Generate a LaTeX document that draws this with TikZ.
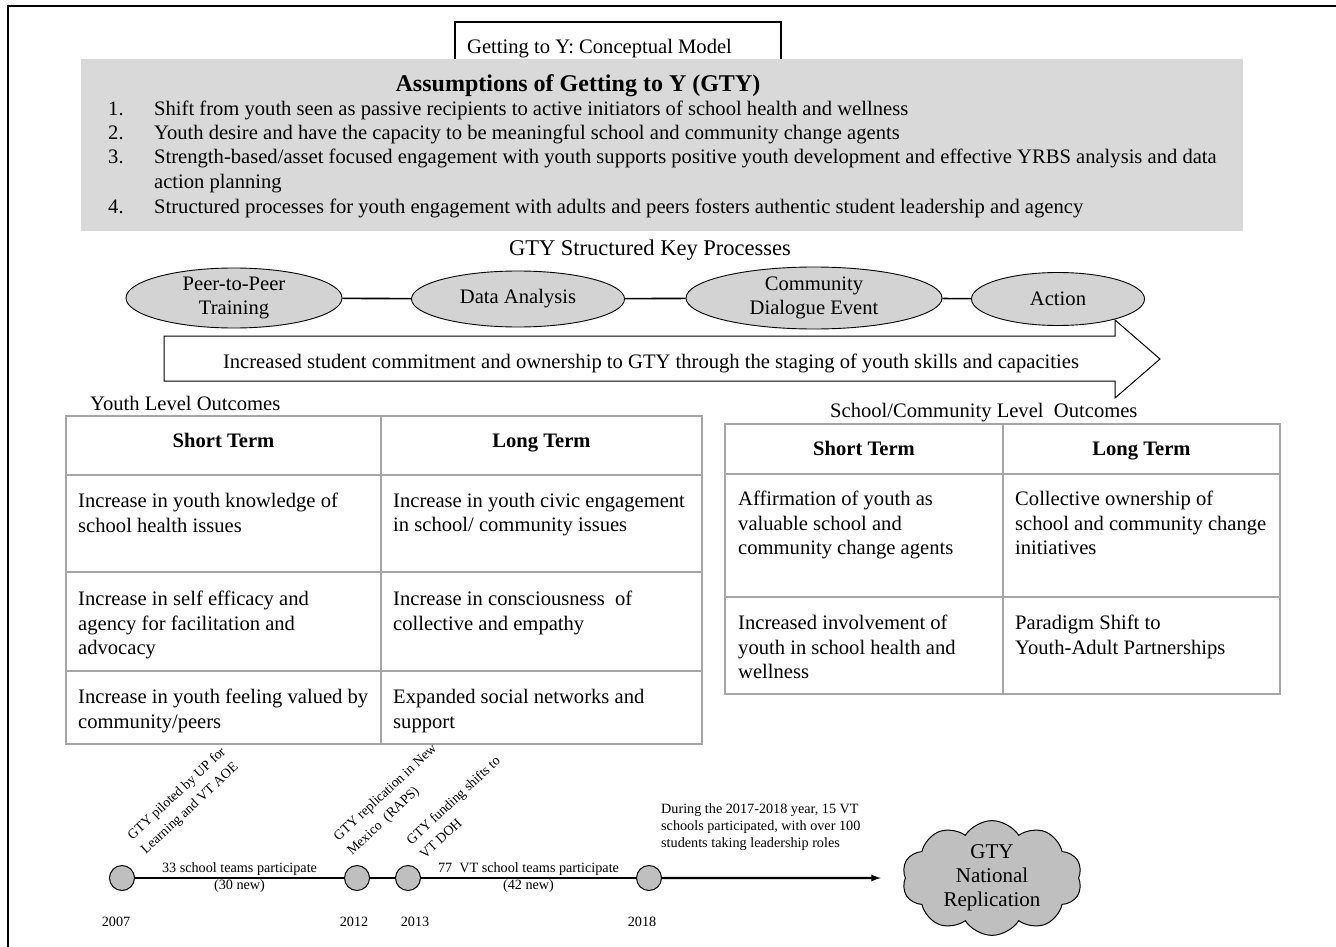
\documentclass[tikz,border=0pt]{standalone}
\usepackage{fontspec}
\setmainfont{Liberation Serif}
\usetikzlibrary{arrows,positioning,shapes.geometric,shapes.symbols}
\definecolor{boxgray}{HTML}{D9D9D9}
\definecolor{ellgray}{HTML}{D3D3D3}
\definecolor{dotgray}{HTML}{BFBFBF}
\definecolor{gridgray}{HTML}{A6A6A6}
\tikzset{stage/.style={ellipse, draw, fill=ellgray, align=center, inner sep=0pt, line width=0.9pt}}
\tikzset{cell/.style={anchor=north west, inner sep=0pt, align=left}}
\tikzset{headcell/.style={font=\fontsize{20.6}{24.5}\selectfont\bfseries, anchor=base}}
\tikzset{tablegrid/.style={draw=gridgray, line width=2pt}}
\tikzset{yeardot/.style={circle, draw, fill=dotgray, minimum size=25pt, inner sep=0pt, line width=1pt}}
\tikzset{smalltext/.style={font=\fontsize{14.2}{17}\selectfont}}
\tikzset{itemtext/.style={anchor=base west, inner sep=0pt}}
\tikzset{milestone/.style={font=\fontsize{13.8}{19.5}\selectfont, rotate=43, anchor=south west, align=left, inner sep=0pt}}

\begin{document}
\begin{tikzpicture}[x=1pt, y=-1pt, font=\fontsize{20.6}{24.5}\selectfont]
	\useasboundingbox (0,0) rectangle (1336,947);
	\draw[line width=2.5pt] (8,947) -- (8,6) -- (1336,6);

	% title and assumptions
	\draw[line width=1.2pt] (455,59) -- (455,22) -- (781,22) -- (781,59);
	\node[anchor=base west, inner sep=0pt] (title) at (467,54) {Getting to Y: Conceptual Model};
	\fill[boxgray] (81,59) rectangle (1243,231);
	\node[font=\fontsize{24}{28}\selectfont\bfseries, anchor=base] (asshead) at (578,92) {Assumptions of Getting to Y (GTY)};
	\node[itemtext] (num1) at (108,116) {1.};
	\node[itemtext] (ass1) at (154,116) {Shift from youth seen as passive recipients to active initiators of school health and wellness};
	\node[itemtext] (num2) at (108,140) {2.};
	\node[itemtext] (ass2) at (154,140) {Youth desire and have the capacity to be meaningful school and community change agents};
	\node[itemtext] (num3) at (108,164) {3.};
	\node[itemtext] (ass3) at (154,164) {Strength-based/asset focused engagement with youth supports positive youth development and effective YRBS analysis and data};
	\node[itemtext] (ass3b) at (154,189) {action planning};
	\node[itemtext] (num4) at (108,213) {4.};
	\node[itemtext] (ass4) at (154,213) {Structured processes for youth engagement with adults and peers fosters authentic student leadership and agency};

	% key processes
	\node[anchor=base, font=\fontsize{22.5}{26}\selectfont] (keyproc) at (650,255) {GTY Structured Key Processes};
	\node[stage, minimum width=216pt, minimum height=54pt] (peer) at (234,298) {Peer-to-Peer\\Training};
	\node[stage, minimum width=213pt, minimum height=56pt] (data) at (518,299) {Data Analysis};
	\node[stage, minimum width=256pt, minimum height=62pt] (dialog) at (814,298) {Community\\Dialogue Event};
	\node[stage, minimum width=173pt, minimum height=53pt] (action) at (1058,299) {Action};
	\draw[line width=1.6pt] (peer) -- (data);
	\draw[line width=1.6pt] (data) -- (dialog);
	\draw[line width=1.6pt] (dialog) -- (action);

	\draw[fill=white, line width=1pt] (164,336) -- (1115,336) -- (1115,320) -- (1160,359) -- (1115,398) -- (1115,381) -- (164,381) -- cycle;
	\node[anchor=base] (growth) at (651,368) {Increased student commitment and ownership to GTY through the staging of youth skills and capacities};

	% youth outcomes
	\node[anchor=base west, inner sep=0pt] (youthlbl) at (90,410) {Youth Level Outcomes};
	\draw[tablegrid] (66,416) rectangle (702,744);
	\draw[tablegrid] (381,416) -- (381,744);
	\draw[tablegrid] (66,475) -- (702,475);
	\draw[tablegrid] (66,572) -- (702,572);
	\draw[tablegrid] (66,671) -- (702,671);
	\node[headcell] (yshort) at (223.5,447) {Short Term};
	\node[headcell] (ylong) at (541.5,447) {Long Term};
	\node[cell] (ys1) at (78,493) {Increase in youth knowledge of\\school health issues};
	\node[cell] (yl1) at (393,493) {Increase in youth civic engagement\\in school/ community issues};
	\node[cell] (ys2) at (78,591) {Increase in self efficacy and\\agency for facilitation and\\advocacy};
	\node[cell] (yl2) at (393,591) {Increase in consciousness~ of\\collective and empathy};
	\node[cell] (ys3) at (78,689) {Increase in youth feeling valued by\\community/peers};
	\node[cell] (yl3) at (393,689) {Expanded social networks and\\support};

	% school/community outcomes
	\node[anchor=base west, inner sep=0pt] (schoollbl) at (830,417) {School/Community Level~ Outcomes};
	\draw[tablegrid] (725,424) rectangle (1280,694);
	\draw[tablegrid] (1003,424) -- (1003,694);
	\draw[tablegrid] (725,474) -- (1280,474);
	\draw[tablegrid] (725,597) -- (1280,597);
	\node[headcell] (sshort) at (864,455) {Short Term};
	\node[headcell] (slong) at (1141.5,455) {Long Term};
	\node[cell] (ss1) at (738,491) {Affirmation of youth as\\valuable school and\\community change agents};
	\node[cell] (sl1) at (1015,491) {Collective ownership of\\school and community change\\initiatives};
	\node[cell] (ss2) at (738,615) {Increased involvement of\\youth in school health and\\wellness};
	\node[cell] (sl2) at (1015,615) {Paradigm Shift to\\Youth-Adult Partnerships};

	% timeline
	\node[yeardot] (y2007) at (122,878) {};
	\node[yeardot] (y2012) at (357,878) {};
	\node[yeardot] (y2013) at (408,878) {};
	\node[yeardot] (y2018) at (649,878) {};
	\node[cloud, cloud puffs=10, cloud puff arc=115, aspect=1.6, draw, fill=dotgray, line width=1pt, minimum width=180pt, minimum height=113pt, align=center, inner sep=0pt, font=\fontsize{21}{24}\selectfont] (cloud) at (992,878) {GTY\\National\\Replication};
	\draw[line width=2.2pt] (y2007) -- node[smalltext, align=center] (seg1) {33 school teams participate\\(30 new)} (y2012);
	\draw[line width=2.2pt] (y2012) -- (y2013);
	\draw[line width=2.2pt] (y2013) -- node[smalltext, align=center] (seg2) {77~ VT school teams participate\\(42 new)} (y2018);
	\draw[line width=2.2pt, -latex, shorten >=24pt] (y2018) -- (cloud);

	\node[smalltext, anchor=base] (t2007) at (116,926) {2007};
	\node[smalltext, anchor=base] (t2012) at (354,926) {2012};
	\node[smalltext, anchor=base] (t2013) at (415,926) {2013};
	\node[smalltext, anchor=base] (t2018) at (642,926) {2018};

	\node[milestone] (pilot) at (148,857) {GTY piloted by UP for\\Learning and VT AOE};
	\node[milestone] (mexico) at (354,858) {GTY replication in New\\Mexico~ (RAPS)};
	\node[milestone] (doh) at (425,860) {GTY funding shifts to\\VT DOH};
	\node[smalltext, anchor=north west, align=left, inner sep=0pt] (during) at (661,803) {During the 2017-2018 year, 15 VT\\schools participated, with over 100\\students taking leadership roles};
\end{tikzpicture}
\end{document}
